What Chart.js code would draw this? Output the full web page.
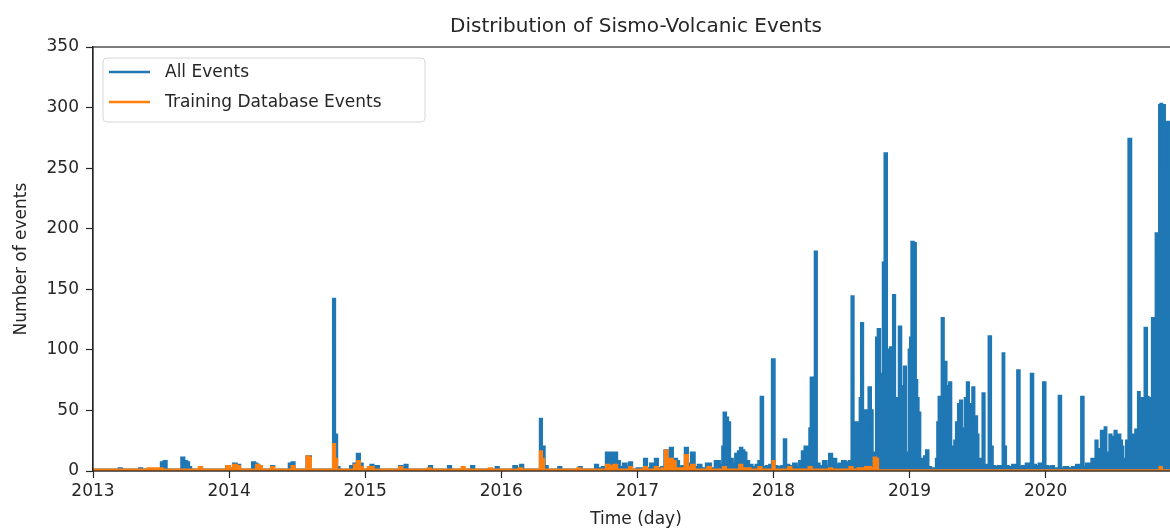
<!DOCTYPE html>
<html>
<head>
<meta charset="utf-8">
<title>Distribution of Sismo-Volcanic Events</title>
<script src="https://cdn.jsdelivr.net/npm/chart.js@4.4.0/dist/chart.umd.min.js"></script>
<style>
  html, body { margin: 0; padding: 0; background: #fff; overflow: hidden; }
  #wrap { width: 1170px; height: 531px; overflow: hidden; }
</style>
</head>
<body>
<div id="wrap"><canvas id="evoChart" width="1190" height="531"></canvas></div>
<script>
// x = decimal year, y = events per day
const allEvents = [
  [2013.00,1],[2013.18,1],[2013.20,2],[2013.22,1],[2013.33,1],[2013.35,2],[2013.37,1],
  [2013.49,1],[2013.51,7],[2013.53,8],[2013.55,1],
  [2013.64,1],[2013.66,11],[2013.68,8],[2013.70,7],[2013.71,3],[2013.73,1],
  [2013.77,1],[2013.79,3],[2013.81,1],
  [2013.97,1],[2013.99,4],[2014.02,2],[2014.04,6],[2014.07,5],[2014.09,1],
  [2014.16,1],[2014.18,7],[2014.20,6],[2014.21,5],[2014.23,1],
  [2014.30,1],[2014.32,4],[2014.34,1],
  [2014.43,1],[2014.45,6],[2014.47,7],[2014.49,1],
  [2014.56,1],[2014.58,12],[2014.59,12],[2014.61,1],
  [2014.76,1],[2014.77,142],[2014.785,30],[2014.80,3],[2014.82,1],
  [2014.88,1],[2014.90,4],[2014.93,6],[2014.95,14],[2014.97,6],[2014.99,1],
  [2015.03,1],[2015.05,5],[2015.07,2],[2015.09,4],[2015.11,1],
  [2015.24,1],[2015.26,4],[2015.28,2],[2015.30,5],[2015.32,1],
  [2015.46,1],[2015.48,4],[2015.50,1],
  [2015.60,1],[2015.62,4],[2015.64,1],
  [2015.77,1],[2015.79,4],[2015.81,1],
  [2015.95,1],[2015.97,3],[2015.99,1],
  [2016.08,1],[2016.10,4],[2016.13,2],[2016.15,5],[2016.17,1],
  [2016.28,1],[2016.29,43],[2016.305,20],[2016.33,4],[2016.35,1],
  [2016.41,1],[2016.43,3],[2016.45,1],
  [2016.56,1],[2016.58,3],[2016.60,1],
  [2016.68,1],[2016.70,5],[2016.72,2],
  [2016.76,3],[2016.78,15],[2016.81,15],[2016.84,15],[2016.86,8],[2016.88,3],[2016.91,6],[2016.93,3],[2016.95,7],[2016.97,1],
  [2017.02,2],[2017.04,1],[2017.06,10],[2017.08,2],[2017.11,6],[2017.12,2],[2017.14,10],[2017.16,2],
  [2017.19,3],[2017.21,17],[2017.23,8],[2017.25,19],[2017.27,10],[2017.28,10],[2017.30,8],[2017.31,3],
  [2017.34,4],[2017.36,19],[2017.38,6],[2017.41,15],[2017.43,3],
  [2017.46,5],[2017.48,2],[2017.53,6],[2017.55,2],[2017.59,8],[2017.62,5],
  [2017.63,20],[2017.64,48],[2017.66,44],[2017.67,40],[2017.69,10],[2017.71,6],[2017.73,14],[2017.75,16],
  [2017.76,19],[2017.78,17],[2017.79,15],[2017.81,8],[2017.83,5],
  [2017.86,3],[2017.88,5],[2017.90,8],[2017.915,61],[2017.93,3],[2017.96,4],[2017.98,5],
  [2018.00,92],[2018.015,4],[2018.04,3],[2018.07,4],[2018.085,26],[2018.10,5],[2018.13,4],
  [2018.16,6],[2018.18,3],[2018.20,8],[2018.22,16],[2018.24,20],[2018.26,12],[2018.27,35],[2018.28,77],
  [2018.30,70],[2018.31,181],[2018.325,6],
  [2018.35,4],[2018.38,8],[2018.40,4],[2018.42,14],[2018.44,6],[2018.45,10],[2018.47,5],[2018.49,6],
  [2018.52,8],[2018.54,7],[2018.57,8],
  [2018.58,144],[2018.595,40],[2018.61,40],[2018.63,30],[2018.64,60],[2018.65,122],[2018.665,45],
  [2018.68,50],[2018.69,30],[2018.71,69],[2018.72,50],[2018.735,15],[2018.75,12],[2018.76,110],
  [2018.775,117],[2018.79,80],[2018.80,80],[2018.81,172],[2018.825,262],[2018.84,100],[2018.85,100],
  [2018.865,102],[2018.875,20],[2018.885,145],[2018.90,60],[2018.915,60],[2018.93,119],[2018.945,30],
  [2018.955,70],[2018.965,86],[2018.98,15],[2018.99,10],[2019.00,100],[2019.01,110],[2019.02,189],
  [2019.04,188],[2019.05,75],[2019.06,60],[2019.07,48],[2019.085,10],[2019.10,8],[2019.115,12],
  [2019.13,17],[2019.145,3],[2019.17,2],[2019.19,2],
  [2019.20,10],[2019.21,40],[2019.22,61],[2019.23,30],[2019.245,126],[2019.255,86],[2019.265,90],
  [2019.275,70],[2019.285,30],[2019.30,73],[2019.31,20],[2019.325,15],[2019.335,25],[2019.35,40],
  [2019.365,55],[2019.38,58],[2019.39,35],[2019.40,30],[2019.415,60],[2019.43,73],[2019.44,30],
  [2019.455,55],[2019.47,69],[2019.48,40],[2019.49,45],[2019.50,30],[2019.51,10],[2019.53,5],
  [2019.545,64],[2019.555,5],[2019.575,3],[2019.59,111],[2019.605,20],[2019.615,4],[2019.64,3],
  [2019.66,4],[2019.68,3],[2019.69,97],[2019.70,20],[2019.715,4],[2019.74,3],[2019.77,5],[2019.785,3],
  [2019.80,83],[2019.815,3],[2019.84,4],[2019.87,6],[2019.885,5],[2019.90,80],[2019.915,5],[2019.94,4],
  [2019.96,6],[2019.975,3],[2019.99,73],[2020.005,4],[2020.03,3],[2020.05,4],[2020.07,2],[2020.09,2],
  [2020.105,62],[2020.12,2],[2020.15,3],[2020.18,2],[2020.21,3],[2020.24,5],[2020.255,3],[2020.27,61],
  [2020.285,3],[2020.31,6],[2020.33,4],[2020.345,10],[2020.36,6],[2020.375,25],[2020.385,18],[2020.40,18],
  [2020.415,33],[2020.43,30],[2020.44,36],[2020.45,15],[2020.465,10],[2020.475,30],[2020.49,22],
  [2020.50,28],[2020.515,33],[2020.525,28],[2020.54,30],[2020.555,25],[2020.565,20],[2020.575,8],
  [2020.585,10],[2020.60,25],[2020.62,274],[2020.635,10],[2020.645,30],[2020.655,25],[2020.665,34],
  [2020.675,20],[2020.685,65],[2020.695,45],[2020.705,60],[2020.72,40],[2020.737,118],[2020.75,61],
  [2020.76,40],[2020.775,60],[2020.79,126],[2020.80,120],[2020.82,196],[2020.83,180],[2020.84,302],
  [2020.85,303],[2020.86,250],[2020.87,302],[2020.88,30],[2020.89,288],[2020.91,288],[2020.94,150],
  [2020.98,40]
];

const trainingEvents = [
  [2013.00,1],[2013.30,1],[2013.50,2],[2013.52,1],[2013.77,1],[2013.79,3],[2013.81,1],
  [2013.97,1],[2013.99,4],[2014.02,2],[2014.04,5],[2014.07,4],[2014.09,1],
  [2014.19,1],[2014.21,5],[2014.23,4],[2014.25,1],[2014.30,1],[2014.32,3],[2014.34,1],
  [2014.45,1],[2014.47,4],[2014.49,1],[2014.56,1],[2014.58,12],[2014.59,11],[2014.61,1],
  [2014.76,1],[2014.77,22],[2014.785,10],[2014.80,1],[2014.91,1],[2014.93,5],[2014.95,8],
  [2014.97,3],[2014.99,1],[2015.05,3],[2015.07,1],[2015.24,1],[2015.26,3],[2015.28,1],
  [2015.45,1],[2015.47,2],[2015.49,1],[2015.70,1],[2015.72,3],[2015.74,1],
  [2015.90,1],[2015.92,2],[2015.94,1],[2016.12,1],[2016.14,2],[2016.16,1],
  [2016.28,1],[2016.29,16],[2016.305,10],[2016.32,1],[2016.55,1],[2016.57,2],[2016.59,1],
  [2016.76,1],[2016.78,5],[2016.81,4],[2016.84,5],[2016.86,1],[2016.93,1],[2016.95,3],[2016.97,1],
  [2017.04,1],[2017.06,3],[2017.08,1],[2017.12,1],[2017.14,3],[2017.16,1],
  [2017.20,2],[2017.21,17],[2017.23,10],[2017.25,10],[2017.27,8],[2017.29,2],
  [2017.34,2],[2017.36,13],[2017.38,3],[2017.41,5],[2017.43,1],[2017.50,1],[2017.53,3],[2017.55,1],
  [2017.62,1],[2017.64,3],[2017.66,1],[2017.74,1],[2017.76,5],[2017.78,2],[2017.88,1],[2017.90,3],
  [2017.92,1],[2017.99,1],[2018.00,8],[2018.015,1],[2018.10,1],[2018.12,3],[2018.14,1],
  [2018.25,1],[2018.27,3],[2018.29,1],[2018.40,1],[2018.42,2],[2018.44,1],[2018.55,1],[2018.57,3],
  [2018.59,1],[2018.65,2],[2018.70,3],[2018.73,2],[2018.745,11],[2018.76,10],[2018.775,0.5],
  [2020.83,0.5],[2020.845,3],[2020.86,0.5],[2020.98,0.5]
];

const seriesNames = ['All Events', 'Training Database Events'];
const seriesColors = ['#1f77b4', '#ff7f0e'];
const yTicks = [0, 50, 100, 150, 200, 250, 300, 350];
const xStart = 2013, xEnd = 2020.98;

const textColor = '#262626';
const font17 = { family: 'DejaVu Sans', size: 17 };

const toPoints = arr => arr.map(p => ({ x: p[0], y: p[1] }));

// matplotlib-like frame and legend
const framePlugin = {
  id: 'frame',
  afterDatasetsDraw(chart) {
    const { ctx, chartArea: a } = chart;
    ctx.save();
    ctx.strokeStyle = textColor;
    ctx.lineWidth = 1.2;
    ctx.strokeRect(a.left, a.top, a.right - a.left, a.bottom - a.top);

    // legend box
    const bx = a.left + 10, by = a.top + 11, bw = 322, bh = 64;
    ctx.beginPath();
    ctx.roundRect(bx, by, bw, bh, 4);
    ctx.fillStyle = 'rgba(255,255,255,0.8)';
    ctx.fill();
    ctx.strokeStyle = '#d6d6d6';
    ctx.lineWidth = 1;
    ctx.stroke();
    ctx.font = '17px "DejaVu Sans"';
    ctx.textBaseline = 'middle';
    seriesNames.forEach((name, i) => {
      const y = by + 14 + i * 30;
      ctx.strokeStyle = seriesColors[i];
      ctx.lineWidth = 2.5;
      ctx.beginPath();
      ctx.moveTo(bx + 6, y);
      ctx.lineTo(bx + 47, y);
      ctx.stroke();
      ctx.fillStyle = textColor;
      ctx.fillText(name, bx + 62, y + 1);
    });
    ctx.restore();
  }
};

new Chart('evoChart', {
  type: 'line',
  data: {
    datasets: [{
      label: seriesNames[0],
      data: toPoints(allEvents),
      borderColor: seriesColors[0],
      backgroundColor: seriesColors[0],
      fill: 'origin',
      borderWidth: 2.5,
      pointRadius: 0,
      stepped: 'middle',
      order: 2
    }, {
      label: seriesNames[1],
      data: toPoints(trainingEvents),
      borderColor: seriesColors[1],
      backgroundColor: seriesColors[1],
      fill: 'origin',
      borderWidth: 2.5,
      pointRadius: 0,
      stepped: 'middle',
      order: 1
    }]
  },
  options: {
    responsive: false,
    animation: false,
    layout: { padding: { right: 11 } },
    plugins: {
      legend: { display: false },
      tooltip: { enabled: false },
      title: {
        display: true,
        text: 'Distribution of Sismo-Volcanic Events',
        fullSize: false,
        color: textColor,
        font: { family: 'DejaVu Sans', size: 20, weight: 'normal' },
        padding: { top: 15, bottom: 8 }
      }
    },
    scales: {
      x: {
        type: 'linear',
        min: xStart,
        max: xEnd,
        afterFit: s => { s.height = 60; },
        afterBuildTicks: s => { s.ticks = s.ticks.filter(t => Number.isInteger(t.value)); },
        grid: { drawOnChartArea: false, drawTicks: true, tickLength: 7, tickColor: textColor, tickWidth: 1.2 },
        border: { display: true, color: textColor, width: 1.2 },
        ticks: { stepSize: 1, color: textColor, font: font17, padding: 3, maxRotation: 0,
          callback: v => String(v) },
        title: { display: true, text: 'Time (day)', color: textColor, font: font17, padding: { top: 0, bottom: 1 } }
      },
      y: {
        min: 0,
        max: 350,
        afterFit: s => { s.width = 93; },
        afterBuildTicks: s => { s.ticks = yTicks.map(v => ({ value: v })); },
        grid: { drawOnChartArea: false, drawTicks: true, tickLength: 7, tickColor: textColor, tickWidth: 1.2 },
        border: { display: true, color: textColor, width: 1.2 },
        ticks: { color: textColor, font: font17, padding: 7 },
        title: { display: true, text: 'Number of events', color: textColor, font: font17, padding: { top: 11, bottom: 0 } }
      }
    }
  },
  plugins: [framePlugin]
});
</script>
</body>
</html>
